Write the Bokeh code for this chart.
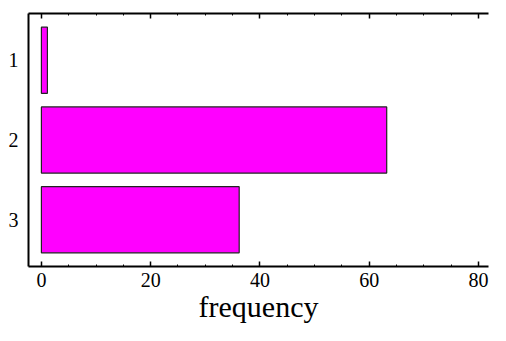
from bokeh.plotting import figure
from bokeh.models import Range1d, LinearAxis, SingleIntervalTicker, FixedTicker
from bokeh.embed import file_html
from bokeh.resources import INLINE

categories = [1, 2, 3]
cat_labels = ["1", "2", "3"]
frequency = [1.1, 63.2, 36.2]
x_ticks_interval = 20

FONT = "Liberation Serif"

p = figure(width=490, height=325, output_backend="svg", toolbar_location=None,
           x_range=Range1d(-2.36, 81.83), y_range=Range1d(3.587, 0.413),
           x_axis_location=None, y_axis_location=None,
           min_border_left=28, min_border_right=2, min_border_top=13, min_border_bottom=59)
p.outline_line_color = None
p.grid.visible = False
p.background_fill_color = "white"
p.border_fill_color = "white"

p.hbar(y=categories, right=frequency, left=0, height=0.83,
       fill_color="#FF00FF", line_color="#222222", line_width=1.2)

def xaxis():
    ax = LinearAxis(ticker=SingleIntervalTicker(interval=x_ticks_interval, num_minor_ticks=4))
    ax.axis_line_width = 2
    ax.axis_line_color = "black"
    ax.major_tick_in = 5
    ax.major_tick_out = 0
    ax.minor_tick_in = 2
    ax.minor_tick_out = 0
    ax.major_tick_line_width = 1.5
    ax.major_label_text_font = FONT
    ax.major_label_text_color = "black"
    return ax

bottom = xaxis()
bottom.major_label_text_font_size = "20px"
bottom.major_label_standoff = 6
bottom.axis_label = "frequency"
bottom.axis_label_text_font = FONT
bottom.axis_label_text_font_size = "30px"
bottom.axis_label_text_font_style = "normal"
bottom.axis_label_text_color = "black"
bottom.axis_label_standoff = 0
p.add_layout(bottom, "below")

top = xaxis()
top.major_label_text_font_size = "0px"
top.major_label_standoff = 0
top.major_label_text_alpha = 0
p.add_layout(top, "above")

left = LinearAxis(ticker=FixedTicker(ticks=categories),
                  major_label_overrides={c: l for c, l in zip(categories, cat_labels)})
left.axis_line_width = 2
left.axis_line_color = "black"
left.major_tick_in = 0
left.major_tick_out = 0
left.minor_tick_in = 0
left.minor_tick_out = 0
left.major_label_standoff = 10
left.major_label_text_font = FONT
left.major_label_text_font_size = "20px"
left.major_label_text_color = "black"
p.add_layout(left, "left")

open("out.html", "w").write(file_html(p, INLINE))
